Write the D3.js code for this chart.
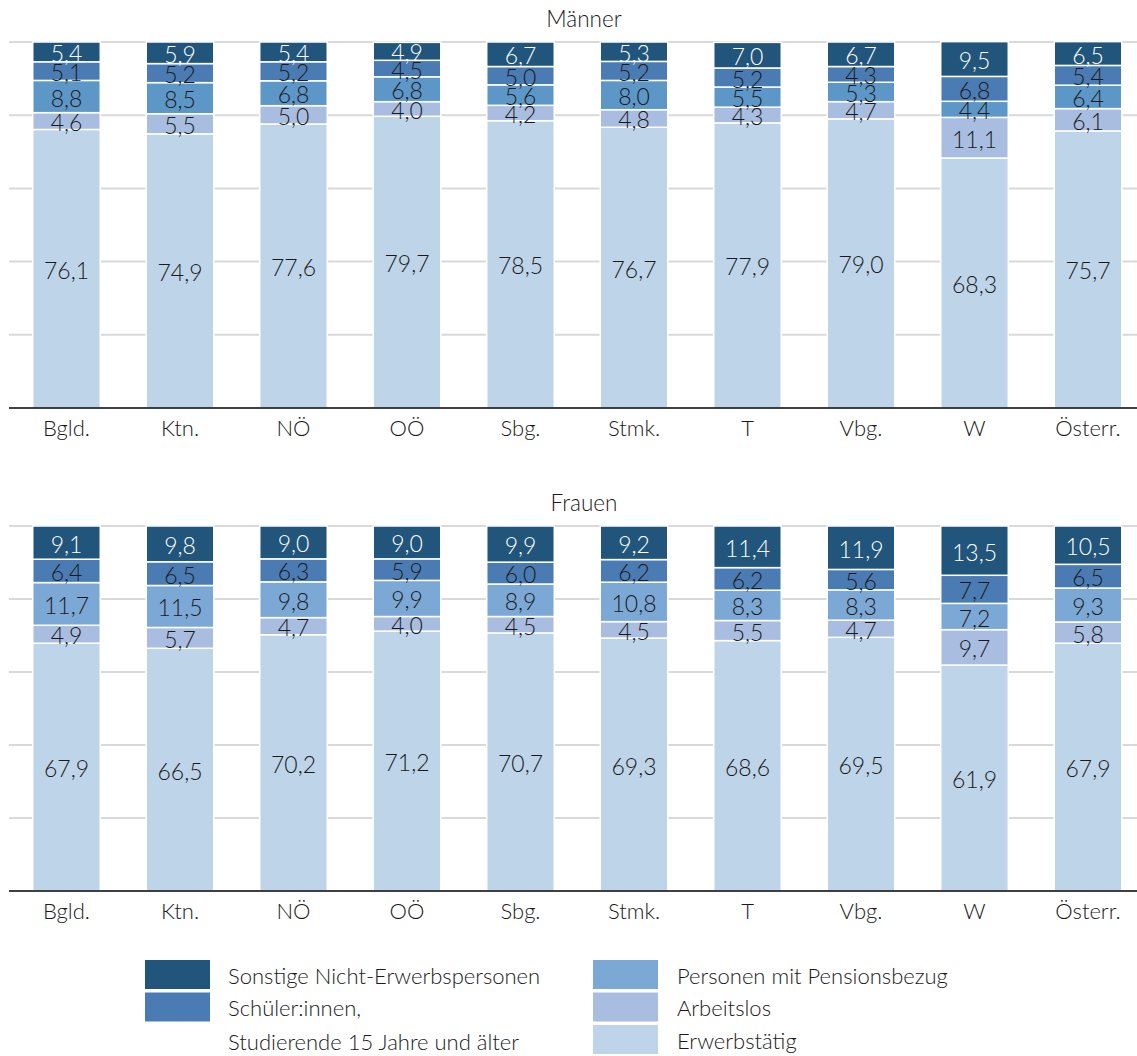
<!DOCTYPE html>
<html>
<head>
<meta charset="utf-8">
<script src="https://cdn.jsdelivr.net/npm/d3@7"></script>
<style>
  html, body { margin: 0; padding: 0; background: #fff; }
  svg text { font-family: "Lato", "Open Sans", sans-serif; font-weight: 300; fill: #1a1a1a; }
</style>
</head>
<body>
<svg id="chart" width="1137" height="1056"></svg>
<script>
// Bundesländer (categories)
const regions = ["Bgld.", "Ktn.", "NÖ", "OÖ", "Sbg.", "Stmk.", "T", "Vbg.", "W", "Österr."];

// Stacking order from bottom to top
const seriesKeys = ["erwerb", "arbeitslos", "pension", "schueler", "sonstige"];

// Männer, Anteile in %
const menErwerbstaetig = [76.1, 74.9, 77.6, 79.7, 78.5, 76.7, 77.9, 79.0, 68.3, 75.7];
const menArbeitslos    = [4.6, 5.5, 5.0, 4.0, 4.2, 4.8, 4.3, 4.7, 11.1, 6.1];
const menPension       = [8.8, 8.5, 6.8, 6.8, 5.6, 8.0, 5.5, 5.3, 4.4, 6.4];
const menSchueler      = [5.1, 5.2, 5.2, 4.5, 5.0, 5.2, 5.2, 4.3, 6.8, 5.4];
const menSonstige      = [5.4, 5.9, 5.4, 4.9, 6.7, 5.3, 7.0, 6.7, 9.5, 6.5];

// Frauen, Anteile in %
const womenErwerbstaetig = [67.9, 66.5, 70.2, 71.2, 70.7, 69.3, 68.6, 69.5, 61.9, 67.9];
const womenArbeitslos    = [4.9, 5.7, 4.7, 4.0, 4.5, 4.5, 5.5, 4.7, 9.7, 5.8];
const womenPension       = [11.7, 11.5, 9.8, 9.9, 8.9, 10.8, 8.3, 8.3, 7.2, 9.3];
const womenSchueler      = [6.4, 6.5, 6.3, 5.9, 6.0, 6.2, 6.2, 5.6, 7.7, 6.5];
const womenSonstige      = [9.1, 9.8, 9.0, 9.0, 9.9, 9.2, 11.4, 11.9, 13.5, 10.5];

// Legend entries (left column, right column)
const legendLeft  = [["sonstige", ["Sonstige Nicht-Erwerbspersonen"]],
                     ["schueler", ["Schüler:innen,", "Studierende 15 Jahre und älter"]]];
const legendRight = [["pension", ["Personen mit Pensionsbezug"]],
                     ["arbeitslos", ["Arbeitslos"]],
                     ["erwerb", ["Erwerbstätig"]]];

const yTicks = [0, 20, 40, 60, 80, 100];

const colorsMen = {
  sonstige: "#21557b", schueler: "#4a7cb3", pension: "#5d97c7",
  arbeitslos: "#a8bddf", erwerb: "#bdd4e9"
};
const colorsWomen = {
  sonstige: "#21557b", schueler: "#4a7cb3", pension: "#7ca8d6",
  arbeitslos: "#a8bddf", erwerb: "#bdd4e9"
};

function buildRows(e, a, p, s, o) {
  return regions.map((r, i) => ({
    region: r, erwerb: e[i], arbeitslos: a[i], pension: p[i], schueler: s[i], sonstige: o[i]
  }));
}

const panels = [
  { title: "Männer", rows: buildRows(menErwerbstaetig, menArbeitslos, menPension, menSchueler, menSonstige),
    top: 42, bottom: 408, colors: colorsMen },
  { title: "Frauen", rows: buildRows(womenErwerbstaetig, womenArbeitslos, womenPension, womenSchueler, womenSonstige),
    top: 526, bottom: 891, colors: colorsWomen }
];

const svg = d3.select("#chart");
const W = 1137, gridLeft = 9;

const x = d3.scaleBand()
  .domain(regions)
  .range([9.75, 1144.75])
  .paddingInner(0.405)
  .paddingOuter(0.2025);

const stack = d3.stack().keys(seriesKeys);

panels.forEach(panel => {
  const y = d3.scaleLinear().domain([0, 100]).range([panel.bottom, panel.top]);
  const g = svg.append("g");

  // title
  g.append("text")
    .attr("x", 584).attr("y", panel.top - 24)
    .attr("text-anchor", "middle").attr("dominant-baseline", "central")
    .style("font-size", "22.5px")
    .text(panel.title);

  // gridlines
  g.append("g").selectAll("line")
    .data(yTicks.slice(1))
    .join("line")
    .attr("x1", gridLeft).attr("x2", W)
    .attr("y1", d => y(d)).attr("y2", d => y(d))
    .attr("stroke", "#d9d9d9").attr("stroke-width", 2);

  const series = stack(panel.rows);

  // bar segments
  g.append("g").selectAll("g")
    .data(series)
    .join("g")
    .attr("fill", s => panel.colors[s.key])
    .selectAll("rect")
    .data(s => s)
    .join("rect")
    .attr("x", d => x(d.data.region))
    .attr("width", x.bandwidth())
    .attr("y", d => y(d[1]))
    .attr("height", d => y(d[0]) - y(d[1]))
    .attr("stroke", "#fff").attr("stroke-width", 1.5);

  // value labels
  g.append("g").selectAll("g")
    .data(series)
    .join("g")
    .selectAll("text")
    .data(s => s.map(d => ({ key: s.key, d })))
    .join("text")
    .attr("x", o => x(o.d.data.region) + x.bandwidth() / 2)
    .attr("y", o => (y(o.d[0]) + y(o.d[1])) / 2 + 1)
    .attr("text-anchor", "middle").attr("dominant-baseline", "central")
    .style("font-size", "23px")
    .style("fill", o => o.key === "sonstige" ? "#ffffff" : "#1a1a1a")
    .text(o => d3.format(".1f")(o.d.data[o.key]).replace(".", ","));

  // baseline axis
  const axis = g.append("g")
    .attr("transform", `translate(0,${panel.bottom})`)
    .call(d3.axisBottom(x).tickSize(0).tickPadding(19));
  axis.select(".domain").remove();
  axis.selectAll("text")
    .style("font-size", "22px").style("font-family", null)
    .attr("dominant-baseline", "central").attr("dy", null);
  g.append("line")
    .attr("x1", gridLeft).attr("x2", W)
    .attr("y1", panel.bottom).attr("y2", panel.bottom)
    .attr("stroke", "#000").attr("stroke-width", 1.5);
});

// legend
function drawLegend(entries, sx, tx) {
  const lg = svg.append("g");
  let row = 0;
  entries.forEach(([key, lines]) => {
    const top = 960 + row * 32.5;
    lg.append("rect")
      .attr("x", sx).attr("y", top).attr("width", 65).attr("height", 29)
      .attr("fill", colorsWomen[key]);
    lines.forEach((t, k) => {
      lg.append("text")
        .attr("x", tx).attr("y", top + 15 + k * 33.5)
        .attr("dominant-baseline", "central")
        .style("font-size", "22px")
        .text(t);
    });
    row += 1;
  });
}
drawLegend(legendLeft, 145, 228);
drawLegend(legendRight, 593, 677);
</script>
</body>
</html>
